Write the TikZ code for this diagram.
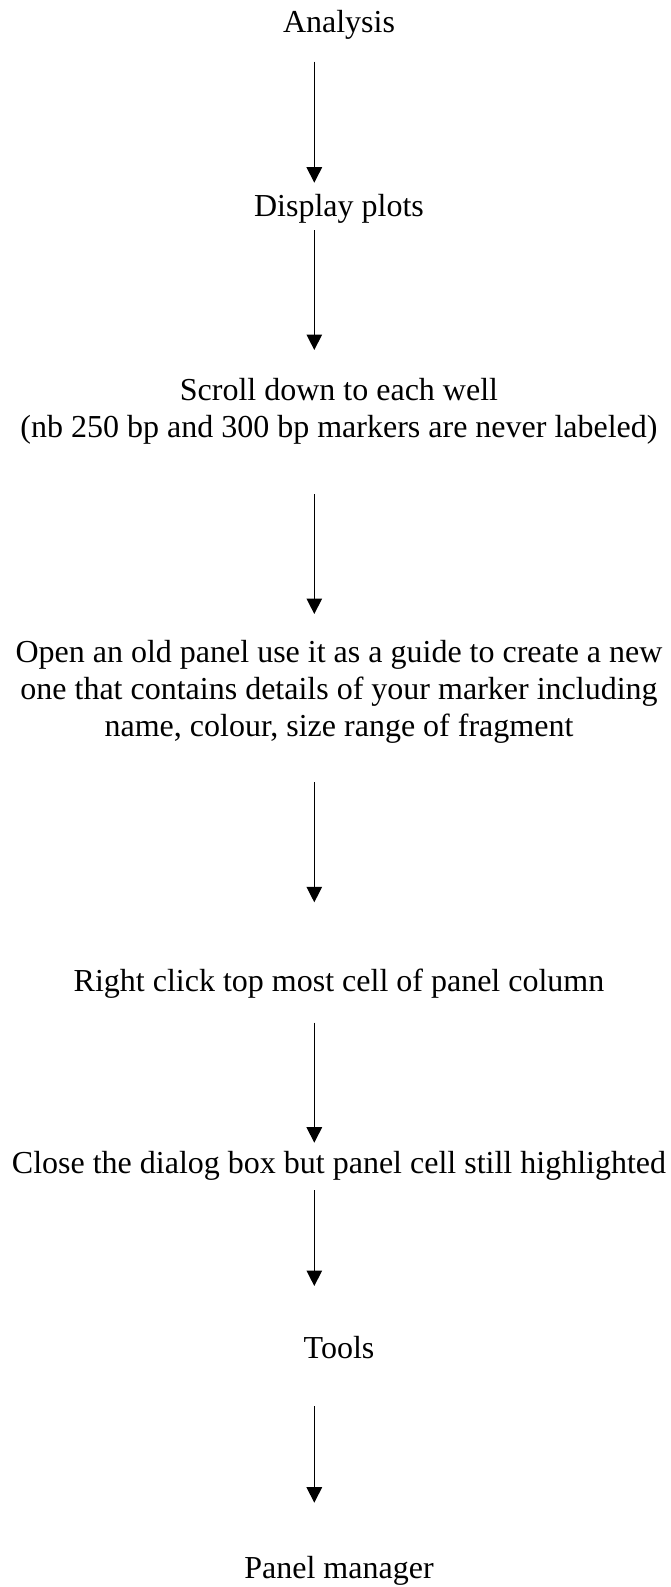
\documentclass[tikz,border=0pt]{standalone}
\usepackage{fontspec}
\setmainfont{Liberation Serif}
\usetikzlibrary{arrows.meta}
\begin{document}
\begin{tikzpicture}[x=1pt,y=1pt,
  lbl/.style={anchor=base,inner sep=0pt,align=center,font=\fontsize{32}{36.9}\selectfont},
  arr/.style={line width=1.2pt,-{Triangle[length=15.5pt,width=15.5pt]}}]
\useasboundingbox (0,0) rectangle (671,-1587);
\node[lbl] (A) at (339,-32.7) {Analysis};
\node[lbl] (B) at (339,-216.5) {Display plots};
\node[lbl] (C) at (339,-437.6) {Scroll down to each well\\(nb 250 bp and 300 bp markers are never labeled)};
\node[lbl] (D) at (339,-736.5) {Open an old panel use it as a guide to create a new\\one that contains details of your marker including\\name, colour, size range of fragment};
\node[lbl] (E) at (339,-991) {Right click top most cell of panel column};
\node[lbl] (F) at (339,-1173.3) {Close the dialog box but panel cell still highlighted};
\node[lbl] (G) at (339,-1358.3) {Tools};
\node[lbl] (H) at (339,-1578) {Panel manager};
\coordinate (a1s) at (314.3,-61.7);   \coordinate (a1e) at (314.3,-182.7);
\coordinate (a2s) at (314.3,-230);    \coordinate (a2e) at (314.3,-350);
\coordinate (a3s) at (314.3,-494.3);  \coordinate (a3e) at (314.3,-614);
\coordinate (a4s) at (314.3,-782.3);  \coordinate (a4e) at (314.3,-902.3);
\coordinate (a5s) at (314.3,-1022.7); \coordinate (a5e) at (314.3,-1142.7);
\coordinate (a6s) at (314.3,-1190);   \coordinate (a6e) at (314.3,-1286);
\coordinate (a7s) at (314.3,-1406);   \coordinate (a7e) at (314.3,-1502.7);
\draw[arr] (a1s) -- (a1e);
\draw[arr] (a2s) -- (a2e);
\draw[arr] (a3s) -- (a3e);
\draw[arr] (a4s) -- (a4e);
\draw[arr] (a5s) -- (a5e);
\draw[arr] (a6s) -- (a6e);
\draw[arr] (a7s) -- (a7e);
\end{tikzpicture}
\end{document}
